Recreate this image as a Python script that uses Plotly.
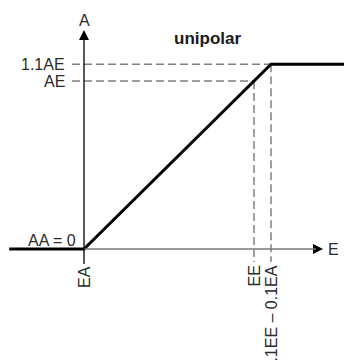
#!/usr/bin/env python3
# -*- coding:utf-8 -*-

import plotly.graph_objects as go


# transfer curve, in units of the input span (EA = 0, EE = 1)
CURVE_X = [-0.44, 0.0, 1.1, 1.53]
CURVE_Y = [0.0, 0.0, 1.1, 1.1]

# marked input values and their tick labels
X_TICKS  = [0.0, 1.0, 1.1]
X_LABELS = ['EA', 'EE', '1.1EE \u2013 0.1EA']

# marked output values and their tick labels
Y_TICKS  = [1.1, 1.0]
Y_LABELS = ['1.1AE', 'AE']
ZERO_LABEL = 'AA = 0'

TITLE   = 'unipolar'
X_NAME  = 'E'
Y_NAME  = 'A'

WIDTH   = 344
HEIGHT  = 361
X_PX    = 170.0   # pixels per x unit
Y_PX    = 168.0   # pixels per y unit
ORIGIN  = (84, 249)

FONT    = 'Liberation Sans, Arial, sans-serif'
TXT_COL = '#2a2a2a'
DASH_COL = '#808080'


def PxX(px: float) -> float:
	return (px - ORIGIN[0]) / X_PX


def PxY(py: float) -> float:
	return (ORIGIN[1] - py) / Y_PX


def GenerateFigure() -> go.Figure:
	fig = go.Figure()

	fig.update_layout(
		width=WIDTH,
		height=HEIGHT,
		margin={ 'l': 0, 'r': 0, 't': 0, 'b': 0, },
		paper_bgcolor='white',
		plot_bgcolor='white',
		showlegend=False,
		font=dict(family=FONT, size=16, color=TXT_COL),
	)
	fig.update_xaxes(
		range=[PxX(0), PxX(WIDTH)], visible=False, fixedrange=True,
	)
	fig.update_yaxes(
		range=[PxY(HEIGHT), PxY(0)], visible=False, fixedrange=True,
	)

	# dashed guides
	dash = dict(color=DASH_COL, width=1.5, dash='8px,4px')
	for yv, xv in zip(Y_TICKS, [X_TICKS[2], X_TICKS[1]]):
		fig.add_shape(type='line', x0=PxX(72), x1=xv, y0=yv, y1=yv,
			line=dash, layer='below')
	for xv, yv in zip(X_TICKS[1:], [Y_TICKS[1], Y_TICKS[0]]):
		fig.add_shape(type='line', x0=xv, x1=xv, y0=yv, y1=PxY(262),
			line=dash, layer='below')

	# axes
	fig.add_shape(type='line', x0=0, x1=PxX(316), y0=0, y1=0,
		line=dict(color='#7a7a7a', width=1.3))
	fig.add_shape(type='line', x0=0, x1=0, y0=PxY(264), y1=PxY(36),
		line=dict(color='black', width=1.3))
	fig.add_trace(go.Scatter(
		x=[0, PxX(323)], y=[PxY(30), 0],
		mode='markers',
		marker=dict(symbol=['arrow-up', 'arrow-right'], size=10, color='black',
			line=dict(width=0)),
		hoverinfo='skip', cliponaxis=False,
	))

	# transfer curve
	fig.add_trace(go.Scatter(
		x=CURVE_X, y=CURVE_Y,
		mode='lines',
		line=dict(color='black', width=3),
		hoverinfo='skip',
	))

	# labels
	for yv, txt in zip(Y_TICKS, Y_LABELS):
		fig.add_annotation(x=PxX(67), y=yv, text=txt, showarrow=False,
			xanchor='right', yanchor='middle')
	fig.add_annotation(x=PxX(78), y=0, text=ZERO_LABEL, showarrow=False,
		xanchor='right', yanchor='bottom', yshift=-2)
	for xv, txt in zip(X_TICKS, X_LABELS):
		fig.add_annotation(x=xv, y=PxY(264), text=txt, showarrow=False,
			textangle=-90, xanchor='center', yanchor='top')
	fig.add_annotation(x=0, y=PxY(20), text=Y_NAME, showarrow=False,
		xanchor='center', yanchor='middle')
	fig.add_annotation(x=PxX(333), y=0, text=X_NAME, showarrow=False,
		xanchor='center', yanchor='middle')
	fig.add_annotation(x=PxX(207), y=PxY(38), text='<b>%s</b>' % TITLE,
		showarrow=False, xanchor='center', yanchor='middle',
		font=dict(size=17, color='#1a1a1a'))

	return fig


def main() -> None:
	fig = GenerateFigure()
	fig.write_html(
		'out.html',
		config={ 'displayModeBar': False, },
		post_script="document.body.style.margin = '0';",
	)


if __name__ == '__main__':
	main()
